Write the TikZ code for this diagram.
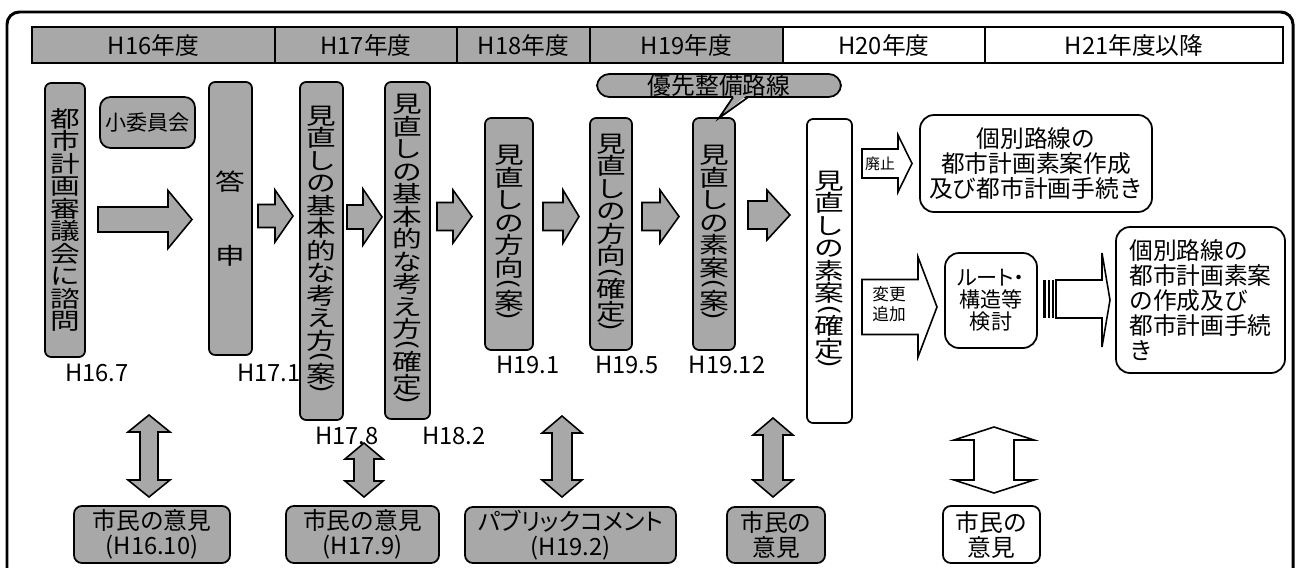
\documentclass[tikz,border=0pt]{standalone}
\usepackage{fontspec}
\usepackage{graphicx}
\setmainfont{Noto Sans CJK JP}
\newfontfamily\vjp[FakeStretch=1.3]{Noto Sans CJK JP}
\usetikzlibrary{calc}
\definecolor{bg}{HTML}{A8A8A8}
\newcommand\vfont{\vjp\fontsize{13}{12.8}\selectfont\lineskiplimit=-50pt\relax}
\newcommand\hfont{\fontsize{13.5}{14.2}\selectfont\lineskiplimit=-50pt\relax}
\newcommand\sfont{\fontsize{12}{12.4}\selectfont\lineskiplimit=-50pt\relax}
\newcommand\tfont{\fontsize{9.5}{11.4}\selectfont\lineskiplimit=-50pt\relax}
\newcommand\ufont{\fontsize{8.5}{9}\selectfont}
\newcommand\vlp{\rotatebox[origin=c]{-90}{(}}
\newcommand\vrp{\rotatebox[origin=c]{-90}{)}}
\newcommand\rarr[7]{\draw[barrow,fill=#7] (#1,#4-#5) -- (#2,#4-#5) -- (#2,#4-#6) -- (#3,#4) -- (#2,#4+#6) -- (#2,#4+#5) -- (#1,#4+#5) -- cycle;}
\newcommand\vdarr[7]{\draw[barrow,fill=#7] (#1,#2) -- (#1+#4,#2+#6) -- (#1+#5,#2+#6) -- (#1+#5,#3-#6) -- (#1+#4,#3-#6) -- (#1,#3) -- (#1-#4,#3-#6) -- (#1-#5,#3-#6) -- (#1-#5,#2+#6) -- (#1-#4,#2+#6) -- cycle;}
\begin{document}
\begin{tikzpicture}[x=0.02cm,y=-0.02cm,
  every node/.style={inner sep=0pt,outer sep=0pt},
  sz/.style 2 args={minimum width=#1*0.02cm,minimum height=#2*0.02cm},
  hcell/.style={draw,line width=1pt,font=\hfont},
  gvbox/.style={draw,line width=1pt,rounded corners=3.5pt,fill=bg,font=\vfont,align=center},
  wvbox/.style={gvbox,fill=white},
  gbox/.style={draw,line width=1pt,rounded corners=4.5pt,fill=bg,font=\hfont,align=center},
  wbox/.style={gbox,fill=white},
  barrow/.style={draw,line width=0.9pt,line join=miter},
  datelbl/.style={font=\hfont},
]
\useasboundingbox (0,0) rectangle (1299,568);
\clip (0,0) rectangle (1299,568);
\fill[white] (0,0) rectangle (1299,568);
% outer frame
\draw[line width=1.7pt,rounded corners=7pt] (7,640) -- (7,12) -- (1293,12) -- (1293,640);
% header
\node[hcell,fill=bg,sz={243}{36}] (h16) at (153.5,45) {H16年度};
\node[hcell,fill=bg,sz={182}{36}] (h17) at (366,45) {H17年度};
\node[hcell,fill=bg,sz={133}{36}] (h18) at (523.5,45) {H18年度};
\node[hcell,fill=bg,sz={193}{36}] (h19) at (686.5,45) {H19年度};
\node[hcell,fill=white,sz={202}{36}] (h20) at (884,45) {H20年度};
\node[hcell,fill=white,sz={298}{36}] (h21) at (1134,45) {H21年度以降};
% main boxes
\node[gvbox,sz={40}{274}] (b1) at (65,220) {都\\市\\計\\画\\審\\議\\会\\に\\諮\\問};
\node[gbox,rounded corners=6pt,sz={95}{51},font=\sfont] (b2) at (147.5,122.5) {小委員会};
\node[gvbox,sz={43}{273}] (b3) at (230.5,218.5) {答\\[29pt]申};
\node[gvbox,sz={43}{338}] (b4) at (321.5,251) {見\\直\\し\\の\\基\\本\\的\\な\\考\\え\\方\\[-4.5pt]\vlp\\[-2.3pt]案\\[-5pt]\vrp};
\node[gvbox,sz={45}{337}] (b5) at (407.5,250.5) {見\\直\\し\\の\\基\\本\\的\\な\\考\\え\\方\\[-4.5pt]\vlp\\[-2.3pt]確\\定\\[-5pt]\vrp};
\node[gvbox,sz={48}{232}] (b6) at (509,234) {見\\直\\し\\の\\方\\向\\[-4.5pt]\vlp\\[-2.3pt]案\\[-5pt]\vrp};
\node[gvbox,sz={42}{232}] (b7) at (611,234) {見\\直\\し\\の\\方\\向\\[-4.5pt]\vlp\\[-2.3pt]確\\定\\[-5pt]\vrp};
\node[gvbox,sz={42}{232}] (b8) at (714,234) {見\\直\\し\\の\\素\\案\\[-4.5pt]\vlp\\[-2.3pt]案\\[-5pt]\vrp};
\node[wvbox,sz={45}{304}] (b9) at (829.5,271) {見\\直\\し\\の\\素\\案\\[-4.5pt]\vlp\\[-2.3pt]確\\定\\[-5pt]\vrp};
% callout
\node[gbox,rounded corners=7pt,sz={244}{23}] (call) at (719,85.5) {優先整備路線};
\coordinate (tip) at ($(b8.north)+(5,0)$);
\fill[bg] (734,95.2) -- (747,95.2) -- (tip) -- cycle;
\draw[line width=1pt] (733,97.3) -- (tip) -- (748,97.3);
% right side boxes
\node[wbox,rounded corners=8pt,sz={232}{97}] (b10) at (1036,163.5) {個別路線の\\都市計画素案作成\\及び都市計画手続き};
\node[wbox,rounded corners=8pt,sz={92}{95},font=\sfont] (b11) at (991,300.5) {{\addfontfeature{RawFeature=+palt}ルート・}\\構造等\\検討};
\node[wbox,rounded corners=8pt,sz={169}{146},align=left] (b12) at (1200.5,300) {個別路線の\\都市計画素案\\の作成及び\\都市計画手続\\き};
% dates
\node[datelbl] (d1) at (97,373) {H16.7};
\node[datelbl] (d2) at (269,373) {H17.1};
\node[datelbl] (d3) at (347,436) {H17.8};
\node[datelbl] (d4) at (454,436) {H18.2};
\node[datelbl] (d5) at (528,365) {H19.1};
\node[datelbl] (d6) at (627,365) {H19.5};
\node[datelbl] (d7) at (727,365) {H19.12};
% block arrows between boxes
\rarr{98}{168}{192}{219.5}{12.5}{29}{bg}
\rarr{258}{275}{293}{216}{11.5}{26}{bg}
\rarr{347}{363}{382}{217}{12}{28}{bg}
\rarr{437}{453}{472}{216.5}{14}{26.5}{bg}
\rarr{543}{563}{579}{216.5}{14}{26.5}{bg}
\rarr{642}{660}{679}{216.5}{14}{26.5}{bg}
\rarr{748}{767}{790}{215}{14}{25}{bg}
% 廃止 / 変更追加 arrows
\rarr{862}{898}{912}{163.5}{14.5}{28.5}{white}
\node[font=\ufont] (l1) at (880,163.5) {廃止};
\rarr{862}{918}{937}{307}{27.5}{50}{white}
\node[font=\tfont,align=center] (l2) at (889,304) {変更\\追加};
% striped arrow
\fill (1043,280) rectangle (1046,318);
\fill (1048,280) rectangle (1050,318);
\fill (1052,280) rectangle (1054,318);
\draw[barrow,fill=white] (1056,280) -- (1102,280) -- (1102,253) -- (1110,300) -- (1102,347) -- (1102,318) -- (1056,318) -- cycle;
% bottom double arrows
\vdarr{149}{415}{497}{21}{9}{17}{bg}
\vdarr{364}{443}{497}{19}{10}{16}{bg}
\vdarr{562}{416}{497}{20}{10}{17}{bg}
\vdarr{773}{418}{497}{20}{10}{17}{bg}
\vdarr{994}{427}{493}{40}{20}{13}{white}
% bottom boxes
\node[gbox,sz={156}{57}] (p1) at (152,534.5) {市民の意見\\(H16.10)};
\node[gbox,sz={153}{57}] (p2) at (362.5,534.5) {市民の意見\\(H17.9)};
\node[gbox,sz={211}{56}] (p3) at (570.5,535) {{\addfontfeature{RawFeature=+palt}パブリックコメント}\\(H19.2)};
\node[gbox,sz={98}{56}] (p4) at (776,535) {市民の\\意見};
\node[wbox,sz={97}{57}] (p5) at (991.5,534.5) {市民の\\意見};
\end{tikzpicture}
\end{document}
